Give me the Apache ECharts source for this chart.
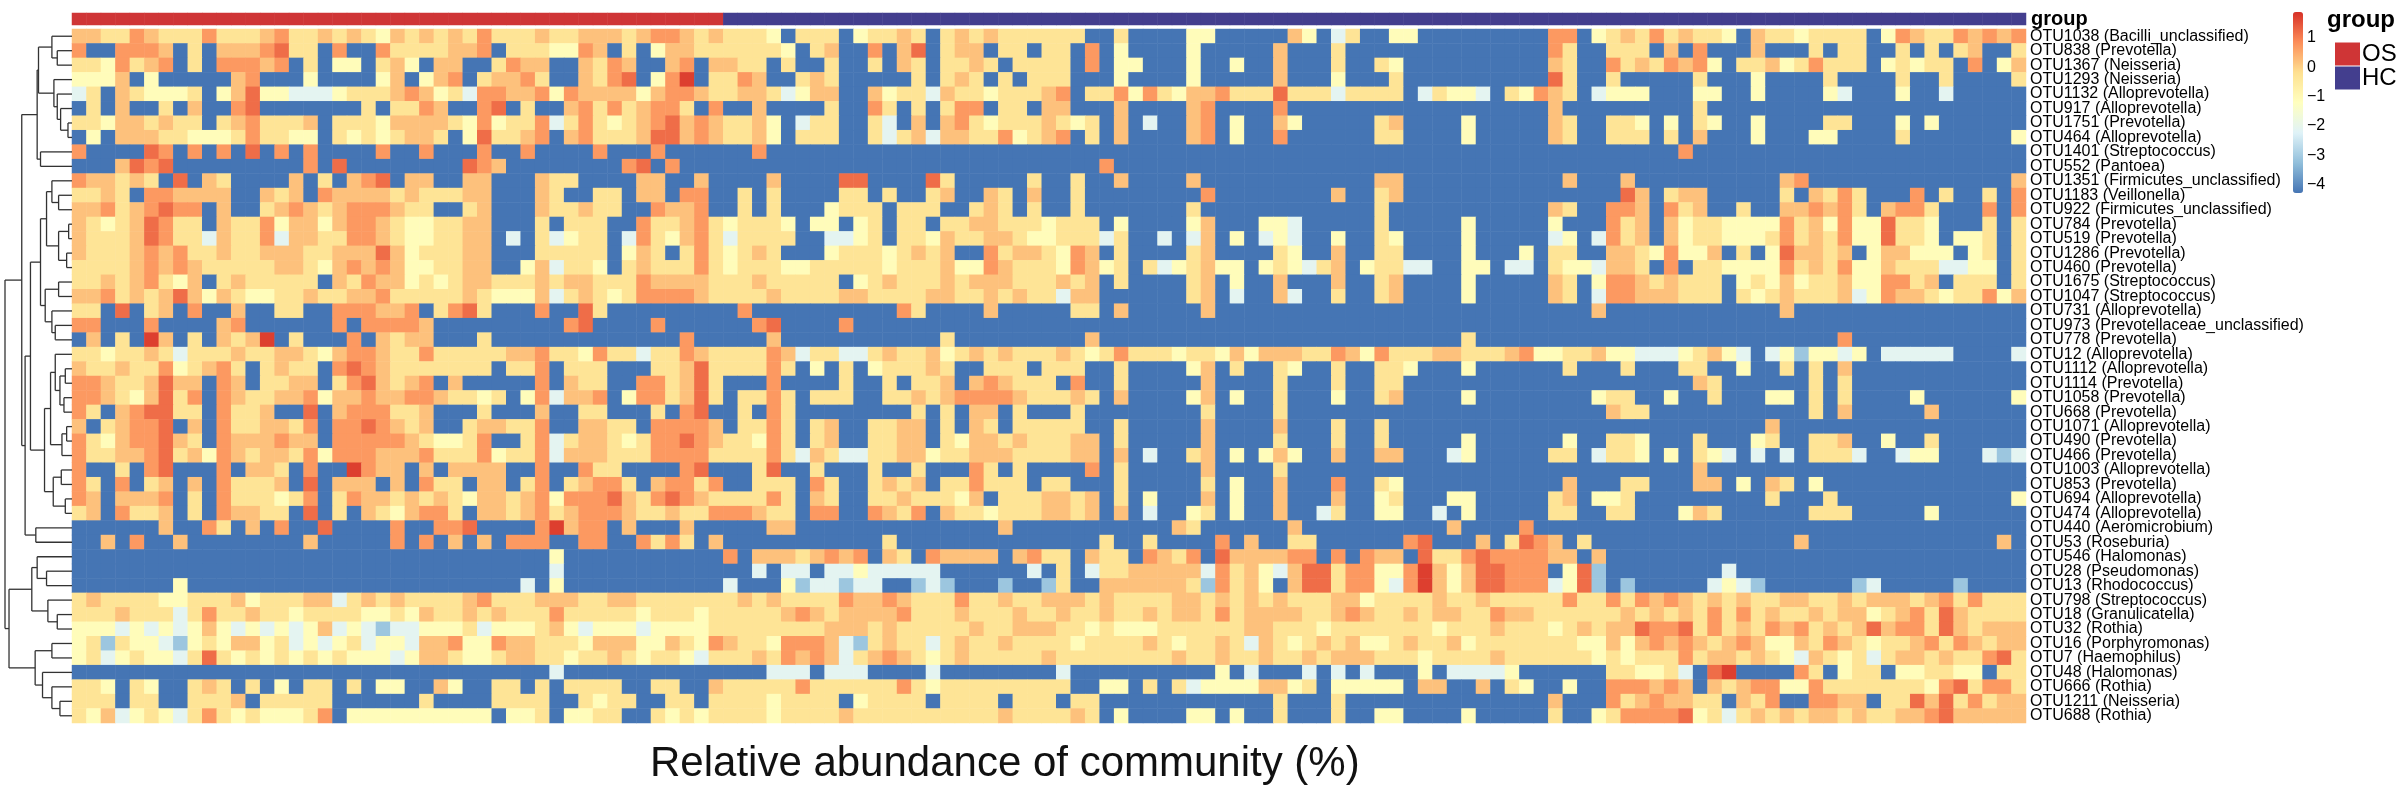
<!DOCTYPE html>
<html>
<head>
<meta charset="utf-8">
<title>Relative abundance of community (%)</title>
<script src="https://cdn.jsdelivr.net/npm/echarts@6.0.0/dist/echarts.min.js"></script>
<style>
  html, body { margin: 0; padding: 0; background: #fff; }
  #chart { width: 2407px; height: 792px; }
</style>
</head>
<body>
<div id="chart"></div>
<script>
// row names, top to bottom (same order as the dendrogram leaves)
const rowLabels = [
  'OTU1038 (Bacilli_unclassified)', 'OTU838 (Prevotella)', 'OTU1367 (Neisseria)', 'OTU1293 (Neisseria)',
  'OTU1132 (Alloprevotella)', 'OTU917 (Alloprevotella)', 'OTU1751 (Prevotella)', 'OTU464 (Alloprevotella)',
  'OTU1401 (Streptococcus)', 'OTU552 (Pantoea)', 'OTU1351 (Firmicutes_unclassified)', 'OTU1183 (Veillonella)',
  'OTU922 (Firmicutes_unclassified)', 'OTU784 (Prevotella)', 'OTU519 (Prevotella)', 'OTU1286 (Prevotella)',
  'OTU460 (Prevotella)', 'OTU1675 (Streptococcus)', 'OTU1047 (Streptococcus)', 'OTU731 (Alloprevotella)',
  'OTU973 (Prevotellaceae_unclassified)', 'OTU778 (Prevotella)', 'OTU12 (Alloprevotella)', 'OTU1112 (Alloprevotella)',
  'OTU1114 (Prevotella)', 'OTU1058 (Prevotella)', 'OTU668 (Prevotella)', 'OTU1071 (Alloprevotella)',
  'OTU490 (Prevotella)', 'OTU466 (Prevotella)', 'OTU1003 (Alloprevotella)', 'OTU853 (Prevotella)',
  'OTU694 (Alloprevotella)', 'OTU474 (Alloprevotella)', 'OTU440 (Aeromicrobium)', 'OTU53 (Roseburia)',
  'OTU546 (Halomonas)', 'OTU28 (Pseudomonas)', 'OTU13 (Rhodococcus)', 'OTU798 (Streptococcus)',
  'OTU18 (Granulicatella)', 'OTU32 (Rothia)', 'OTU16 (Porphyromonas)', 'OTU7 (Haemophilus)',
  'OTU48 (Halomonas)', 'OTU666 (Rothia)', 'OTU1211 (Neisseria)', 'OTU688 (Rothia)'
];

// sample groups along the columns
const groupNames = ['OS', 'HC'];
const groupSizes = [45, 90];

// colour levels, one digit per cell
const levelValues = [-4.27, -3.1, -2.1, -1.1, -0.3, 0.2, 0.7, 1.2, 1.7];

// each row: 4 pieces of 35, 35, 35 and 30 samples
const cellRows = [
  ['55446544464445644545435454546444544', '55545665454443044403445404545444444', '00400003300000530240033000000000660', '345464544305443444403654465656'],
  ['60066650405556744060064444556044433', '65040355444444304500605704550440440', '60300003000005000400000000000000640', '044405060005000404400404045004'],
  ['44364560406665604033045305500465500', '54650056055440400400405404454044440', '60330003003005000400430000000000540', '064546563044534644403434406035'],
  ['33350300000560003000035035604556400', '54670368044650045400000404540404440', '00300003000005000300040000000000740', '040000040003000040000400400004'],
  ['24054333403573322234445653426655636', '55553566544554235500534425443444560', '44636435564447444244440243320436540', '233300033003000032000300200000'],
  ['04050040500670000000404465006704005', '64645664060050000400640404660440550', '00500005600006000000000000000000500', '000000040000000000000000000000'],
  ['44355454404564445044435555436344624', '64345675654453024400420505643444543', '40502005603005300000450000300000540', '044303043003000044000303000000'],
  ['03055544333464433043434554037445605', '64445775654453044400424525544634560', '40500005603006000000440000300000540', '044404050003000330000400000003'],
  ['60000760606070606000060060006006000', '06000600000060000000000000000000000', '00000000000000000000000000000000000', '000000600000000000000000000000'],
  ['00057670000000006070000000076500000', '00067060000000000000000000000000000', '06000000000000000000000000000000000', '000000000000000000000000000000'],
  ['65545407054000050405670550055000544', '00005500500005000077000074000004004', '00500005000000000000550000000000050', '005000000000056000000000000005'],
  ['44540665555005450655554544455000540', '04405506600404000044040045005405004', '00000000600000000500450000000000000', '007504550000040546400060400406'],
  ['55645676605004565456665440045000544', '54400655600404000344404440045404004', '00000004000000000000400000000000540', '066506450040055656405664000606'],
  ['54345764405446355356654334455000404', '44006445643444303303404404455444344', '40300003500033200000400000300000300', '064505344333364536337443000404'],
  ['54445764425446255446654334455020423', '44026435642444400223404435445543344', '42400202503023200300430000300000230', '264505344333464546337443033404'],
  ['54445656445445554455575344455000444', '44035404643454000344434545006455436', '50400004500004300500440000300030440', '055436335040375545035533303404'],
  ['44445656544444554356565334455003524', '43045444643444334444434445336544436', '53404234533034324503442200330220433', '255406044333364546335444223304'],
  ['44545643504544444054655343455444545', '54446555544454444403454445455544454', '50400004503005000500450000300000540', '366545444034353445336645044404'],
  ['55645457535433445445564444454333524', '54346666544445444455444455445454425', '50000004502005200400450000300000540', '266555444043454445236554344635'],
  ['44070450600500440066655604674000600', '74000000000600000000006400005000004', '40500000500000000000000000000000000', '500000000000050000000000000000'],
  ['66000600005600000060666650000000006', '70000600000067000060000000000000000', '00000000000000000000000000000000000', '000000000000000000000000000000'],
  ['05040850405458040006054550004000000', '00000006000005000000000004000000000', '50000000000000000000000000400000000', '000000000000000006000000000000'],
  ['44344542444544554356654464444455644', '36442446544446524422454453454544454', '34644434435355544653644455444563344', '533222345320231332302222200002'],
  ['54454463456404544067654444444044604', '44000445744446403040344454004440444', '00400003504004300400443000300000040', '004000440030040405000000000000'],
  ['66544575506504455046754560500000605', '44006645740006000040040445056544406', '00400000500004000400440000000000000', '000000054000000404000000000000'],
  ['66543574606544556355655665443403625', '56036645740446404440044545666654445', '40500003503004000300450000300000000', '344003004000330404000030000003'],
  ['64056774406445007056664450004000500', '44000406700406400000000404055040004', '00000000400004000000000000000000000', '054400000000000405000005000000'],
  ['50456670506445546066765450045544600', '55440666650446404500445504054044444', '00400000500005000400400000000000000', '000000000000500000000000000000'],
  ['64356675406555655066666543346004624', '55434667654436404500445504355454445', '50400000500004000400400000300000030', '044300040003400445003004000000'],
  ['64455674536545546366655564446344625', '55444666644446425422445534455544445', '50502004503035300500550002300000440', '244303043202020444200233000212'],
  ['60040670006055406008655050555500600', '64400006700047004000400400064040000', '60400000500004000000000000000000000', '000000050000000000000000000000'],
  ['64060450506444507055505064405504604', '56640566460044406400454504464440440', '00400000403005000600430000000000050', '004400055030540300000000000000'],
  ['65055560406444346046554545435545636', '66754676544446405400445444350444554', '50403000503005000500340003300000450', '334000000000400040000000000003'],
  ['45064450406554407040543566405545645', '66654454466654406600654605443444554', '50502003403005002400330020300000440', '044000354000000444000003000000'],
  ['00000050064050600700006006670000685', '66050005000005500000000000000500000', '00000054000000500000000005000060000', '000000000000000000000000000000'],
  ['00506005000000005000006060505066600', '66006464050000000000040000000000000', '04004000060500440000006700050476504', '000000000000005000000000000050'],
  ['00000000000000000000000000000000030', '00000000006055545656054065555056440', '54406546075555660606550744676666550', '500000000000000000000000000000'],
  ['00000000000000000000000000000000020', '00000000000020220223222220000002040', '24455555264532577466336853577666037', '100000000200000000000000000000'],
  ['00000003000000000000000000000002030', '00000000002000312212200121000100140', '05555554164530577466326853577666237', '101000002321000000120000010000'],
  ['45444433444534445524545444456444555', '44554444444545444465565444644544555', '45444455454545444553444454454444464', '464656545454455445455545646444'],
  ['44454442464454434444334354454544464', '44443444344444565455556444544454454', '45445455464555544565445455446554444', '445454546464544545534564754444'],
  ['33323232353232323523212233342333453', '23332333344444444555454444454455544', '34333444444554443444444434445444345', '455766746454656454575664754555'],
  ['34143321343553423234233255633655444', '35553354365443666521454424544544443', '44445434454254345453345445344444443', '353565654565335465434456465455'],
  ['34234332474343434343332355433455443', '44543443244454656524565434544444544', '44444454454454454555444344445444444', '343444645545432543424554544674'],
  ['00000000000000000000000000000000020', '00000000000002220222000020000000020', '00000000030200020202000302222300000', '044334207800006403440334433044'],
  ['44304300454040304404033005300440404', '44400440054444464444446434444444440', '03304042333355340333330550050430030', '066656505456633644444443674664'],
  ['44404400444504444400000040000444400', '43440044044443444403444404444044404', '40000000000004000400000000000000500', '064565544054600665504475746455'],
  ['43523432464343334603333333333033403', '34400434344443444454444444444544445', '40300003303004000400330000300000400', '346666734245454554544556755555']
];

// row dendrogram: [height, left, right], a leaf is a row number
const rowTree = [1.0,
  [0.75,
    [0.52,
      [0.50,
        [0.30, 0, [0.22, 1, 2]],
        [0.27, 3, [0.22, 4, [0.17, 5, [0.06, 6, 7]]]]],
      [0.47, 8, 9]],
    [0.70,
      [0.62,
        [0.47,
          [0.38, [0.30, 10, [0.20, 11, 12]], [0.20, [0.05, 13, 14], [0.08, 15, 16]]],
          [0.40, [0.20, 17, 18], [0.30, 19, [0.25, 20, 21]]]],
        [0.41,
          [0.32, [0.25, 22, [0.18, [0.10, 23, 24], [0.12, 25, 26]]], [0.15, [0.08, 27, 28], 29]],
          [0.28, [0.16, 30, 31], [0.10, 32, 33]]]],
      [0.54, 34, 35]]],
  [0.94,
    [0.60, [0.52, 36, [0.38, 37, 38]], [0.36, 39, [0.22, 40, 41]]],
    [0.55, [0.30, 42, 43], [0.44, 44, [0.30, 45, [0.18, 46, 47]]]]]];

const scaleTicks = [-4, -3, -2, -1, 0, 1];
const palette = ['#4575B4', '#91BFDB', '#E0F3F8', '#FFFFBF', '#FEE090', '#FC8D59', '#D73027'];
const groupColors = ['#CF3536', '#433E8E'];

const nCols = groupSizes[0] + groupSizes[1];
const nRows = rowLabels.length;
const colIds = [];
for (let i = 0; i < nCols; i++) colIds.push(String(i));

// heatmap cells
const heatData = [];
cellRows.forEach(function (parts, r) {
  const s = parts.join('');
  if (s.length !== nCols) console.warn('row ' + r + ' has ' + s.length + ' cells');
  for (let c = 0; c < nCols; c++) {
    heatData.push([c, r, levelValues[+s[c]]]);
  }
});

// top annotation cells
const groupData = [[], []];
let col = 0;
groupSizes.forEach(function (n, g) {
  for (let i = 0; i < n; i++) groupData[g].push([col++, 0, g]);
});

// dendrogram segments [x1, y1, x2, y2], x = merge height, y = row position
const treeSegs = [];
function walk(node) {
  if (typeof node === 'number') return { y: node, h: 0 };
  const a = walk(node[1]);
  const b = walk(node[2]);
  const h = node[0];
  treeSegs.push([a.h, a.y, h, a.y]);
  treeSegs.push([b.h, b.y, h, b.y]);
  treeSegs.push([h, a.y, h, b.y]);
  return { y: (a.y + b.y) / 2, h: h };
}
walk(rowTree);

const font = '"Liberation Sans", Arial, Helvetica, sans-serif';
const chart = echarts.init(document.getElementById('chart'), null, { renderer: 'canvas' });

const hidden = { show: false };

chart.setOption({
  animation: false,
  textStyle: { fontFamily: font, color: '#000' },
  title: [
    {
      text: 'Relative abundance of community (%)',
      left: 645, top: 738,
      textStyle: { fontSize: 42, fontWeight: 'normal', color: '#111', fontFamily: font }
    },
    {
      text: 'group',
      left: 2327, top: 8, padding: 0,
      textStyle: { fontSize: 24, fontWeight: 'bold', color: '#000', fontFamily: font }
    }
  ],
  legend: {
    data: groupNames,
    orient: 'vertical',
    left: 2335, top: 42,
    padding: 0,
    itemGap: 0,
    itemWidth: 25, itemHeight: 23,
    icon: 'rect',
    selectedMode: false,
    textStyle: { fontSize: 24, color: '#000', fontFamily: font, padding: [0, 0, 0, -3] }
  },
  visualMap: {
    type: 'continuous',
    seriesIndex: 0,
    min: levelValues[0], max: 1.87,
    calculable: false,
    hoverLink: false,
    showLabel: false,
    text: null,
    left: 2293, top: 12,
    padding: 0,
    itemWidth: 10, itemHeight: 181,
    inRange: { color: palette }
  },
  grid: [
    { left: 72, top: 29, width: 1954, height: 694 },   // heatmap
    { left: 72, top: 13, width: 1954, height: 12 },    // group bar
    { left: 5, top: 29, width: 67, height: 694 },      // dendrogram
    { left: 2293, top: 12, width: 10, height: 181 }    // colour scale labels
  ],
  xAxis: [
    { type: 'category', gridIndex: 0, data: colIds, show: false },
    { type: 'category', gridIndex: 1, data: colIds, show: false },
    { type: 'value', gridIndex: 2, min: 0, max: 1, inverse: true, show: false },
    { type: 'category', gridIndex: 3, data: [''], show: false }
  ],
  yAxis: [
    {
      type: 'category', gridIndex: 0, data: rowLabels, inverse: true, position: 'right',
      axisLine: hidden, axisTick: hidden, splitLine: hidden,
      axisLabel: { fontSize: 16, margin: 4, color: '#000', fontFamily: font, interval: 0 }
    },
    {
      type: 'category', gridIndex: 1, data: ['group'], position: 'right',
      axisLine: hidden, axisTick: hidden, splitLine: hidden,
      axisLabel: { fontSize: 20, fontWeight: 'bold', margin: 5, color: '#000', fontFamily: font }
    },
    { type: 'value', gridIndex: 2, min: -0.5, max: nRows - 0.5, inverse: true, show: false },
    {
      type: 'value', gridIndex: 3, min: levelValues[0], max: 1.87, position: 'right',
      axisLine: hidden, axisTick: hidden, splitLine: hidden,
      axisLabel: {
        customValues: scaleTicks, margin: 4, fontSize: 16, color: '#000', fontFamily: font,
        formatter: function (v) { return v < 0 ? '\u2212' + (-v) : String(v); }
      }
    }
  ],
  series: [
    {
      type: 'heatmap', xAxisIndex: 0, yAxisIndex: 0,
      data: heatData, progressive: 0,
      itemStyle: { borderWidth: 0 },
      emphasis: { disabled: true }
    },
    {
      name: groupNames[0], type: 'heatmap', xAxisIndex: 1, yAxisIndex: 1,
      data: groupData[0], itemStyle: { color: groupColors[0], borderWidth: 0 },
      emphasis: { disabled: true }
    },
    {
      name: groupNames[1], type: 'heatmap', xAxisIndex: 1, yAxisIndex: 1,
      data: groupData[1], itemStyle: { color: groupColors[1], borderWidth: 0 },
      emphasis: { disabled: true }
    },
    {
      type: 'custom', xAxisIndex: 2, yAxisIndex: 2,
      data: treeSegs,
      encode: { x: [0, 2], y: [1, 3] },
      silent: true,
      renderItem: function (params, api) {
        const p1 = api.coord([api.value(0), api.value(1)]);
        const p2 = api.coord([api.value(2), api.value(3)]);
        return {
          type: 'line',
          shape: { x1: p1[0], y1: p1[1], x2: p2[0], y2: p2[1] },
          style: { stroke: '#333', lineWidth: 1.3 }
        };
      }
    }
  ]
});
</script>
</body>
</html>
